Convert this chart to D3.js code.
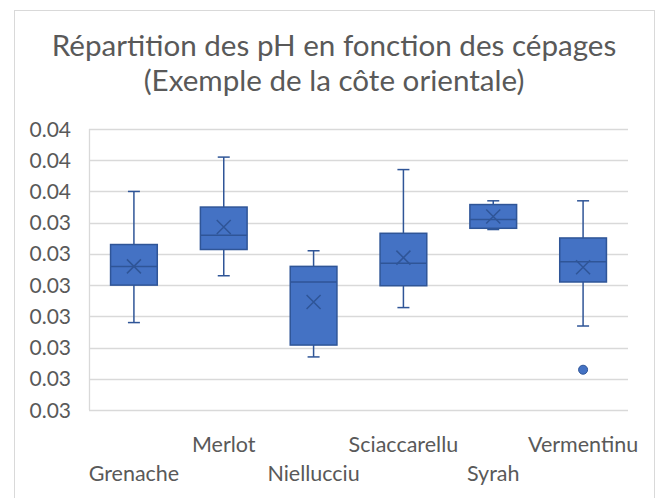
<!DOCTYPE html>
<html>
<head>
<meta charset="utf-8">
<script src="https://cdn.jsdelivr.net/npm/d3@7"></script>
<style>
	body { margin: 0; background: #fff; }
	svg text { font-family: Lato, "Open Sans", sans-serif; fill: #595959; }
</style>
</head>
<body>
<div id="chart"></div>
<script>
const categories = ['Grenache', 'Merlot', 'Niellucciu', 'Sciaccarellu', 'Syrah', 'Vermentinu'];
// five-number summaries + mean
const whiskerLow = [0.03290, 0.03365, 0.03235, 0.03314, 0.03439, 0.032845];
const q1 = [0.03350, 0.03407, 0.03254, 0.03349, 0.03441, 0.03355];
const median = [0.03380, 0.03430, 0.03355, 0.03385, 0.03455, 0.033875];
const q3 = [0.03415, 0.03475, 0.03380, 0.03433, 0.03479, 0.034255];
const whiskerHigh = [0.03500, 0.03555, 0.03405, 0.03535, 0.03485, 0.03485];
const mean = [0.03380, 0.03443, 0.03323, 0.03394, 0.03460, 0.033785];
const outliers = [[], [], [], [], [], [0.032145]];
const tickValues = [0.0315, 0.032, 0.0325, 0.033, 0.0335, 0.034, 0.0345, 0.035, 0.0355, 0.036];
const tickLabels = ['0.03', '0.03', '0.03', '0.03', '0.03', '0.03', '0.03', '0.04', '0.04', '0.04'];
const titleLines = ['Répartition des pH en fonction des cépages', '(Exemple de la côte orientale)'];

const width = 660, height = 498;
const margin = { left: 89, right: 32, top: 129, bottom: 88 };
const fill = '#4472c4', dark = '#2f5597';

const svg = d3.select('#chart').append('svg')
	.attr('width', width)
	.attr('height', height);

// chart frame
svg.append('rect')
	.attr('x', 14.5).attr('y', 10.5)
	.attr('width', 640).attr('height', 500)
	.attr('fill', '#fff')
	.attr('stroke', '#d9d9d9');

svg.selectAll('.title')
	.data(titleLines)
	.enter().append('text')
	.attr('class', 'title')
	.attr('x', 334)
	.attr('y', (d, i) => 56 + i * 35)
	.attr('text-anchor', 'middle')
	.attr('font-size', 29.6)
	.text(d => d);

const x = d3.scaleBand()
	.domain(categories)
	.range([margin.left, width - margin.right])
	.paddingInner(0.48).paddingOuter(0.24);
const y = d3.scaleLinear()
	.domain([0.0315, 0.036])
	.range([height - margin.bottom, margin.top]);

// grid
svg.append('g')
	.selectAll('line')
	.data(tickValues)
	.enter().append('line')
	.attr('x1', margin.left).attr('x2', width - margin.right)
	.attr('y1', d => Math.round(y(d)) + 0.5)
	.attr('y2', d => Math.round(y(d)) + 0.5)
	.attr('stroke', '#d9d9d9')
	.attr('stroke-width', 1.3);

svg.append('line')
	.attr('x1', margin.left + 0.5).attr('x2', margin.left + 0.5)
	.attr('y1', y(0.036)).attr('y2', y(0.0315))
	.attr('stroke', '#d9d9d9')
	.attr('stroke-width', 1.3);

// y labels
svg.append('g')
	.selectAll('text')
	.data(tickValues)
	.enter().append('text')
	.attr('x', 71)
	.attr('y', d => y(d))
	.attr('dy', '0.36em')
	.attr('text-anchor', 'end')
	.attr('font-size', 21)
	.text((d, i) => tickLabels[i]);

const cx = d => x(d) + x.bandwidth() / 2;

// x labels, staggered in two rows
svg.append('g')
	.selectAll('text')
	.data(categories)
	.enter().append('text')
	.attr('x', cx)
	.attr('y', (d, i) => i % 2 ? 452 : 481)
	.attr('text-anchor', 'middle')
	.attr('font-size', 21.5)
	.text(d => d);

// boxes
const boxes = svg.append('g')
	.selectAll('g')
	.data(categories)
	.enter().append('g');

const cap = 6;

boxes.append('line')
	.attr('x1', cx).attr('x2', cx)
	.attr('y1', (d, i) => y(whiskerHigh[i]))
	.attr('y2', (d, i) => y(whiskerLow[i]))
	.attr('stroke', dark).attr('stroke-width', 1.5);
boxes.append('line')
	.attr('x1', d => cx(d) - cap).attr('x2', d => cx(d) + cap)
	.attr('y1', (d, i) => y(whiskerHigh[i]))
	.attr('y2', (d, i) => y(whiskerHigh[i]))
	.attr('stroke', dark).attr('stroke-width', 1.5);
boxes.append('line')
	.attr('x1', d => cx(d) - cap).attr('x2', d => cx(d) + cap)
	.attr('y1', (d, i) => y(whiskerLow[i]))
	.attr('y2', (d, i) => y(whiskerLow[i]))
	.attr('stroke', dark).attr('stroke-width', 1.5);

boxes.append('rect')
	.attr('x', d => x(d))
	.attr('width', x.bandwidth())
	.attr('y', (d, i) => y(q3[i]))
	.attr('height', (d, i) => y(q1[i]) - y(q3[i]))
	.attr('fill', fill)
	.attr('stroke', dark).attr('stroke-width', 1.5);

boxes.append('line')
	.attr('x1', d => x(d)).attr('x2', d => x(d) + x.bandwidth())
	.attr('y1', (d, i) => y(median[i]))
	.attr('y2', (d, i) => y(median[i]))
	.attr('stroke', dark).attr('stroke-width', 1.5);

// mean markers
const m = 7;
boxes.append('path')
	.attr('d', (d, i) => {
		const px = cx(d), py = y(mean[i]);
		return `M${px - m},${py - m}L${px + m},${py + m}M${px - m},${py + m}L${px + m},${py - m}`;
	})
	.attr('stroke', dark).attr('stroke-width', 1.5).attr('fill', 'none');

boxes.each(function (d, i) {
	d3.select(this).selectAll('circle')
		.data(outliers[i])
		.enter().append('circle')
		.attr('cx', cx(d))
		.attr('cy', v => y(v))
		.attr('r', 4.5)
		.attr('fill', fill)
		.attr('stroke', dark);
});
</script>
</body>
</html>
